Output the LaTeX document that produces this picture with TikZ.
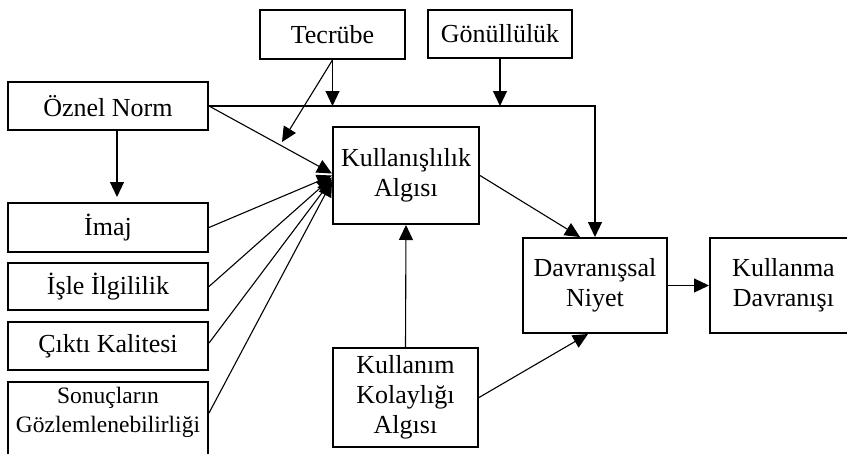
\documentclass[tikz,border=0pt]{standalone}
\usepackage{fontspec}
\setmainfont{Liberation Serif}
\usetikzlibrary{arrows.meta,calc}
\begin{document}
\begin{tikzpicture}[x=1pt,y=-1pt,
  box/.style={draw,line width=2pt,fill=white,inner sep=0pt,align=center,
    font=\fontsize{26}{30}\selectfont},
  smalltext/.style={font=\fontsize{23.5}{29}\selectfont},
  arr/.style={line width=1.1pt,-{Triangle[length=15pt,width=14pt]}}]
\useasboundingbox (0,0) rectangle (847,453);

% top row
\node[box,minimum width=145pt,minimum height=49pt] (tec) at (332.5,34.5) {Tecrübe};
\node[box,minimum width=144pt,minimum height=48pt] (gon) at (500,34) {Gönüllülük};

% left column
\node[box,minimum width=200pt,minimum height=48pt] (oz) at (108,106) {Öznel Norm};
\node[box,minimum width=200pt,minimum height=49pt] (img) at (108,227.5) {İmaj};
\node[box,minimum width=200pt,minimum height=47pt] (isle) at (108,286.5) {İşle İlgililik};
\node[box,minimum width=200pt,minimum height=48pt] (cikti) at (108,346) {Çıktı Kalitesi};
\node[box,smalltext,minimum width=200pt,minimum height=76pt,text depth=21pt] (son) at (108,420)
  {Sonuçların\\Gözlemlenebilirliği};

% centre and right
\node[box,minimum width=146pt,minimum height=97pt] (pu) at (406,175.5) {Kullanışlılık\\Algısı};
\node[box,minimum width=145pt,minimum height=99pt] (kka) at (405.5,397.5) {Kullanım\\Kolaylığı\\Algısı};
\node[box,minimum width=144pt,minimum height=95pt] (dn) at (595,285.5) {Davranışsal\\Niyet};
\node[box,minimum width=147pt,minimum height=95pt] (kd) at (783.5,285.5) {Kullanma\\Davranışı};

% connectors
\coordinate (tx) at (282,142);
\draw[arr] (oz.east) -| (dn.north);
\draw[arr] (tec.south) -- (tec.south |- oz.east);
\draw[arr] (gon.south) -- (gon.south |- oz.east);
\draw[arr] (tec.south) -- (tx);
\draw[arr,shorten >=5pt] ([xshift=9pt]oz.south) -- ([xshift=9pt]img.north);

\draw[arr] (oz.east) -- ($(pu.west)+(0,-2)$);
\draw[arr] (img.east) -- ($(pu.west)+(0,0)$);
\draw[arr] (isle.east) -- ($(pu.west)+(0,2)$);
\draw[arr] ([yshift=3pt]cikti.east) -- ($(pu.west)+(0,4)$);
\draw[arr] ([yshift=7pt]son.east) -- ($(pu.west)+(0,6)$);

\draw[arr] (kka.north) -- (pu.south);
\draw[arr] (pu.east) -- ([xshift=-15pt]dn.north);
\draw[arr] (kka.east) -- ([xshift=-7pt]dn.south);
\draw[arr] (dn.east) -- (kd.west);
\end{tikzpicture}
\end{document}
